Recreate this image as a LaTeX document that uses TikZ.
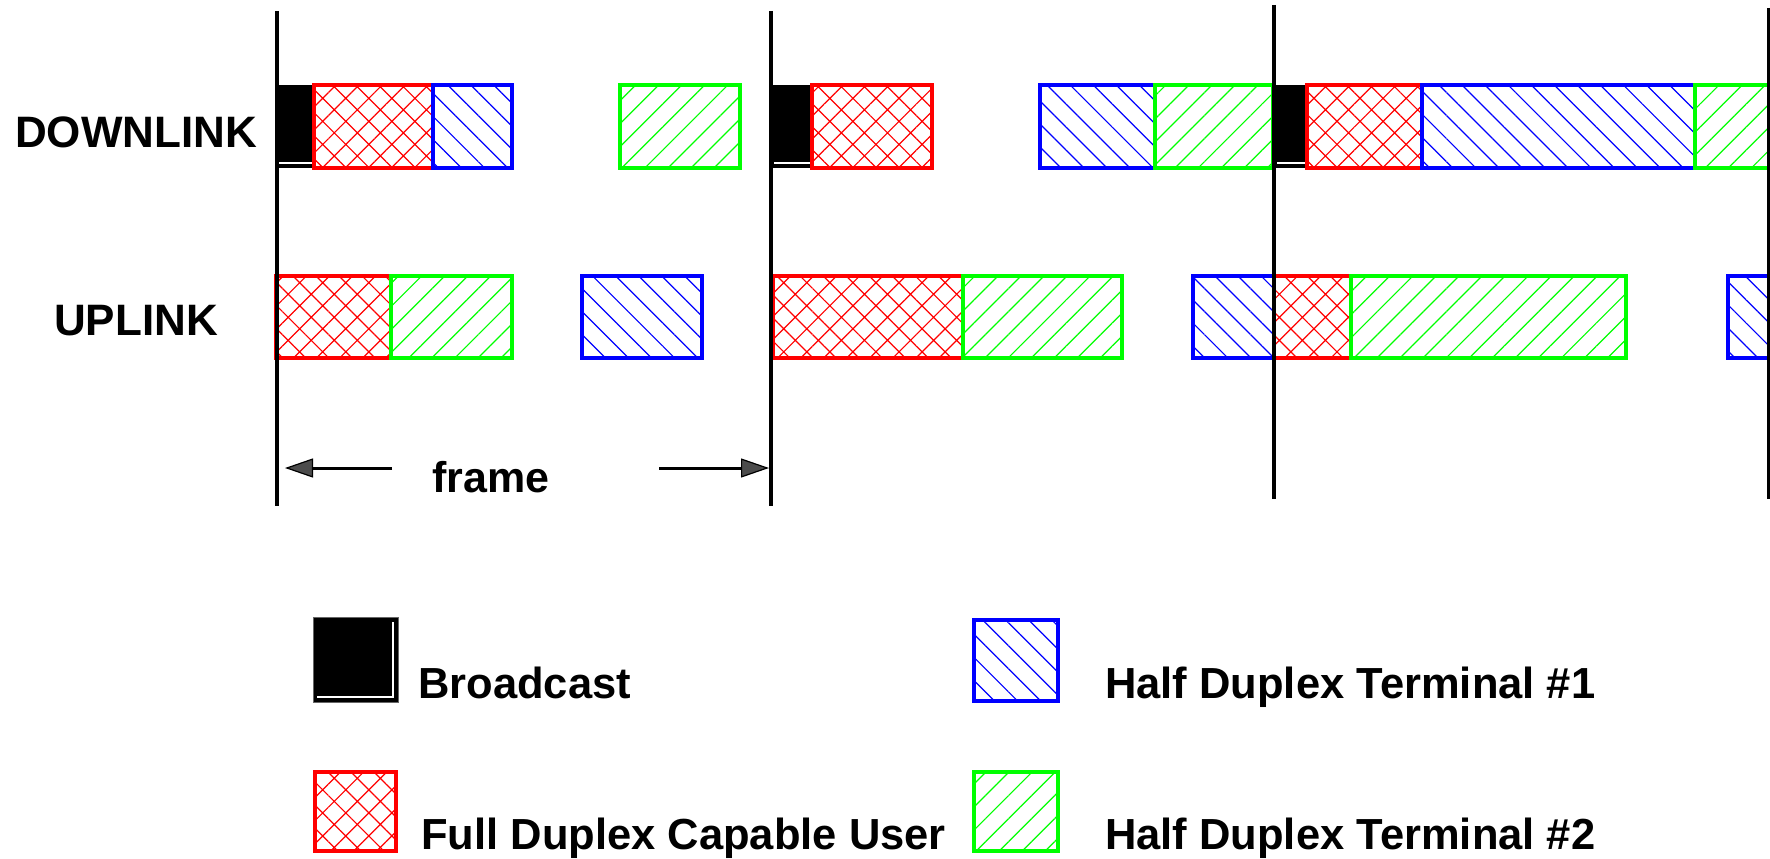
\documentclass[tikz,border=0pt]{standalone}
\usepackage{fontspec}
\setmainfont{Liberation Sans}
\usetikzlibrary{patterns.meta,arrows.meta}
\definecolor{pr}{RGB}{255,0,0}
\definecolor{pb}{RGB}{0,0,255}
\definecolor{pg}{RGB}{0,255,0}
\tikzset{
  slot/.style={line width=3.5pt},
  fdslot/.style={slot, draw=pr, pattern={Hatch[angle=45,distance=16.3pt,line width=1.2pt]}, pattern color=pr},
  hdone/.style={slot, draw=pb, pattern={Lines[angle=-45,distance=16.3pt,line width=1.2pt]}, pattern color=pb},
  hdtwo/.style={slot, draw=pg, pattern={Lines[angle=45,distance=16.3pt,line width=1.2pt]}, pattern color=pg},
  bcast/.style={fill=black},
  bline/.style={draw=white, line width=2pt},
  frameline/.style={draw=black, line width=3.4pt},
  farrow/.style={draw=black, line width=3pt, -{Triangle[length=28pt,width=19pt,line width=1.2pt,fill=black!70]}},
  lbl/.style={inner sep=0pt, anchor=base west, font=\bfseries\fontsize{44}{52}\selectfont},
  leg/.style={inner sep=0pt, anchor=base west, font=\bfseries\fontsize{43.5}{52}\selectfont},
}
\begin{document}
\begin{tikzpicture}[x=1pt,y=-1pt]
\useasboundingbox (0,0) rectangle (1770,859);
\fill[white] (0,0) rectangle (1770,859);
\clip (0,0) rectangle (1770,859);

% ---------- row labels ----------
\node[lbl] (dl) at (15,147) {DOWNLINK};
\node[lbl] (ul) at (54,335) {UPLINK};

% ---------- DOWNLINK ----------
% frame 1
\fill[bcast] (276,85) rectangle (315,168);
\draw[bline] (279,163) -- (315,163);
\draw[fdslot] (314,85) rectangle (433,168);
\draw[hdone] (433,85) rectangle (512,168);
\draw[hdtwo] (620,85) rectangle (740,168);
% frame 2
\fill[bcast] (771,85) rectangle (812,168);
\draw[bline] (774,163) -- (812,163);
\draw[fdslot] (812,85) rectangle (932,168);
\draw[hdone] (1040,85) rectangle (1155,168);
\draw[hdtwo] (1155,85) rectangle (1273,168);
% frame 3
\fill[bcast] (1274,85) rectangle (1307,168);
\draw[bline] (1277,163) -- (1307,163);
\draw[fdslot] (1307,85) rectangle (1422,168);
\draw[hdone] (1422,85) rectangle (1695,168);
\draw[hdtwo] (1695,85) rectangle (1800,168);

% ---------- UPLINK ----------
% frame 1
\draw[fdslot] (276,276) rectangle (391,358);
\draw[hdtwo] (391,276) rectangle (512,358);
\draw[hdone] (582,276) rectangle (702,358);
% frame 2
\draw[fdslot] (773,276) rectangle (963,358);
\draw[hdtwo] (963,276) rectangle (1122,358);
\draw[hdone] (1193,276) rectangle (1274,358);
% frame 3
\draw[fdslot] (1274,276) rectangle (1351,358);
\draw[hdtwo] (1351,276) rectangle (1626,358);
\draw[hdone] (1728,276) rectangle (1800,358);

% ---------- frame boundaries ----------
\coordinate (t1) at (277,11);   \coordinate (b1) at (277,506);
\coordinate (t2) at (771,11);   \coordinate (b2) at (771,506);
\coordinate (t3) at (1274,5);   \coordinate (b3) at (1274,499);
\coordinate (t4) at (1768.5,8); \coordinate (b4) at (1768.5,499);
\draw[frameline] (t1) -- (b1);
\draw[frameline] (t2) -- (b2);
\draw[frameline] (t3) -- (b3);
\draw[frameline] (t4) -- (b4);

% ---------- frame arrow ----------
\coordinate (fa1) at (392,468); \coordinate (fa2) at (285,468);
\coordinate (fb1) at (659,468); \coordinate (fb2) at (769,468);
\draw[farrow] (fa1) -- (fa2);
\draw[farrow] (fb1) -- (fb2);
\node[inner sep=0pt, anchor=base west, font=\bfseries\fontsize{43}{50}\selectfont] (fr) at (432,492) {frame};

% ---------- legend ----------
\fill[bcast, draw=black!60, line width=1pt] (313,617) rectangle (398,702);
\draw[bline] (317,697) -- (393,697) -- (393,622);
\node[leg] (lb) at (418,698) {Broadcast};

\draw[fdslot] (315,772) rectangle (396,851);
\node[leg] (lf) at (421,849) {Full Duplex Capable User};

\draw[hdone] (974,620) rectangle (1058,701);
\node[leg] (lh1) at (1105,698) {Half Duplex T\kern-3pt erminal \#1};

\draw[hdtwo] (974,772) rectangle (1058,851);
\node[leg] (lh2) at (1105,849) {Half Duplex T\kern-3pt erminal \#2};
\end{tikzpicture}
\end{document}
